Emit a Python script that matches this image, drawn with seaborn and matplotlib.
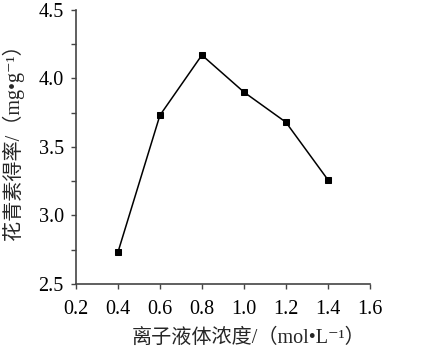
import pandas as pd
import matplotlib.pyplot as plt
import seaborn as sns
from matplotlib.ticker import MultipleLocator

# Data
concentration = [0.4, 0.6, 0.8, 1.0, 1.2, 1.4]
yield_values = [2.73, 3.73, 4.17, 3.90, 3.68, 3.26]

x_label = '离子液体浓度/（mol•L⁻¹）'
y_label = '花青素得率/（mg•g⁻¹）'

df = pd.DataFrame({'conc': concentration, 'yield': yield_values})

sns.set_theme(style='ticks')
plt.rcParams['font.family'] = ['Liberation Serif', 'Noto Sans CJK SC', 'DejaVu Sans']

fig = plt.figure(figsize=(4.44, 3.53), dpi=100)
ax = fig.add_axes([0.171, 0.196, 0.662, 0.776])

sns.lineplot(data=df, x='conc', y='yield', ax=ax, color='black', linewidth=1.1,
             marker='s', markersize=5, markeredgecolor='black', markerfacecolor='black')

ax.set_xlim(0.2, 1.6)
ax.set_ylim(2.5, 4.5)
ax.xaxis.set_major_locator(MultipleLocator(0.2))
ax.yaxis.set_major_locator(MultipleLocator(0.5))
ax.yaxis.set_minor_locator(MultipleLocator(0.25))
ax.set_xticks(ax.get_xticks())
ax.set_xticklabels([f'{v:.1f}' for v in ax.get_xticks()])
ax.set_yticks(ax.get_yticks())
ax.set_yticklabels([f'{v:.1f}' for v in ax.get_yticks()])
ax.set_xlim(0.2, 1.6)
ax.set_ylim(2.5, 4.5)

sns.despine(ax=ax)
for s in ['left', 'bottom']:
    ax.spines[s].set_color('#444444')
    ax.spines[s].set_linewidth(1.2)
ax.tick_params(axis='both', which='both', direction='out', color='#444444',
               labelsize=14.5, labelcolor='black', length=3.8, width=1)
ax.tick_params(axis='x', pad=8)
ax.tick_params(axis='y', pad=5)

ax.set_xlabel(x_label, fontsize=14.5)
ax.set_ylabel(y_label, fontsize=14.5)
ax.xaxis.set_label_coords(0.588, -0.165)
ax.yaxis.set_label_coords(-0.175, 0.537)

fig.savefig('out.png', dpi=100)
